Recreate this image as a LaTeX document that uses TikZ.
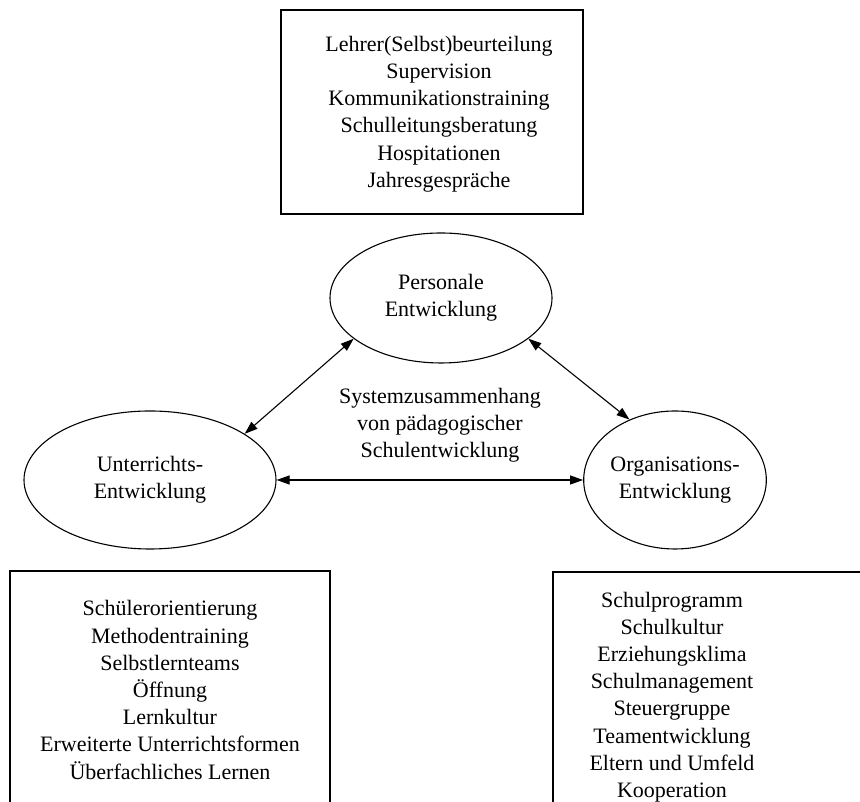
\documentclass[tikz,border=0pt]{standalone}
\usepackage{fontspec}
\setmainfont{Liberation Serif}
\usetikzlibrary{shapes.geometric,arrows.meta}
\begin{document}
\begin{tikzpicture}[x=1pt,y=1pt,
  every node/.style={font=\fontsize{22}{27.2}\selectfont, align=center},
  ell/.style={draw, line width=1.1pt, ellipse, inner sep=0pt},
  frame/.style={draw, line width=1.3pt},
  link/.style={line width=1.1pt, {Triangle[length=13pt,width=9pt]}-{Triangle[length=13pt,width=9pt]}}
]
\useasboundingbox (0,0) rectangle (860,802);
% top box
\draw[frame] (281,792) rectangle (583,588);
\node (tt) at (439,688) {Lehrer(Selbst)beurteilung\\Supervision\\Kommunikationstraining\\Schulleitungsberatung\\Hospitationen\\Jahresgespräche};
% bottom left box
\draw[frame] (10,-2) -- (10,231) -- (330,231) -- (330,-2);
\node (lt) at (170,112) {Schülerorientierung\\Methodentraining\\Selbstlernteams\\Öffnung\\Lernkultur\\Erweiterte Unterrichtsformen\\Überfachliches Lernen};
% bottom right box
\draw[frame] (553,-2) -- (553,230) -- (862,230);
\node (rt) at (672,105) {Schulprogramm\\Schulkultur\\Erziehungsklima\\Schulmanagement\\Steuergruppe\\Teamentwicklung\\Eltern und Umfeld\\Kooperation};
% ellipses
\node[ell, minimum width=222pt, minimum height=130pt] (P) at (441,504) {Personale\\Entwicklung};
\node[ell, minimum width=252pt, minimum height=138pt] (U) at (150,322) {Unterrichts-\\Entwicklung};
\node[ell, minimum width=140pt, minimum height=138pt] (O) at (675,322) {Organisations-\\Entwicklung};
% centre text
\node (c) at (440,377) {Systemzusammenhang\\von pädagogischer\\Schulentwicklung};
% connectors
\draw[link] (P.205.6) -- (U.26);
\draw[link] (P.-25.6) -- (O.127.5);
\draw[link] (U.east) -- (O.west);
\end{tikzpicture}
\end{document}
